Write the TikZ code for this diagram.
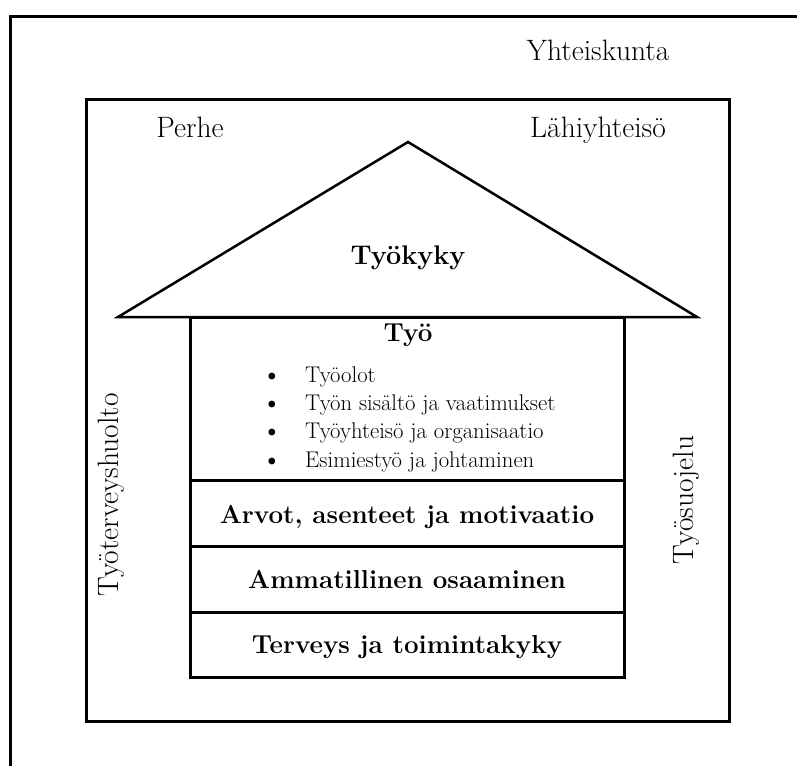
\documentclass[tikz,border=0pt]{standalone}
\begin{document}
\begin{tikzpicture}[x=1pt,y=-1pt]
\tikzset{
  frame/.style={line width=3pt},
  roofline/.style={line width=2.5pt,line join=miter},
  plain/.style={font=\fontsize{29.5}{34}\selectfont,anchor=base,inner sep=0pt},
  heading/.style={font=\bfseries\fontsize{26}{30}\selectfont,anchor=base,inner sep=0pt},
  item/.style={font=\fontsize{22.7}{26}\selectfont,anchor=base west,inner sep=0pt},
  dot/.style={font=\fontsize{30}{34}\selectfont,anchor=base west,inner sep=0pt},
}
\useasboundingbox (0,0) rectangle (797,765);
\clip (0,0) rectangle (797,765);

\coordinate (O1) at (10,17);
\coordinate (O2) at (830,800);
\coordinate (M1) at (86,100);
\coordinate (M2) at (729,721);
\coordinate (RL) at (118,317);
\coordinate (RR) at (697,317);
\coordinate (RT) at (408,142);
\coordinate (H1) at (190,317);
\coordinate (H2) at (624,677);

% boxes
\draw[frame] (O1) rectangle (O2);
\draw[frame] (M1) rectangle (M2);
\draw[frame] (H1) rectangle (H2);
\draw[roofline] (RL)--(RT)--(RR)--cycle;
\draw[frame] (190,480)--(624,480);
\draw[frame] (190,546)--(624,546);
\draw[frame] (190,612)--(624,612);

\node[plain] (yht) at (598,61) {Yhteiskunta};
\node[plain] (perhe) at (190,137) {Perhe};
\node[plain] (lahi) at (598,137) {Lähiyhteisö};
\node[plain,rotate=90] (thuolto) at (118,495) {Työterveyshuolto};
\node[plain,rotate=90] (tsuoj) at (693,500) {Työsuojelu};

\node[heading,font=\bfseries\fontsize{27}{30}\selectfont] (kyky) at (408,264) {Työkyky};
\node[heading] (tyo) at (408,341) {Työ};
\node[dot] (b1) at (261,384) {\textbullet};
\node[dot] (b2) at (261,412) {\textbullet};
\node[dot] (b3) at (261,440) {\textbullet};
\node[dot] (b4) at (261,469) {\textbullet};
\node[item] (i1) at (305,382) {Työolot};
\node[item] (i2) at (305,410) {Työn sisältö ja vaatimukset};
\node[item] (i3) at (305,438) {Työyhteisö ja organisaatio};
\node[item] (i4) at (305,467) {Esimiestyö ja johtaminen};

\node[heading] (arvot) at (407,523) {Arvot, asenteet ja motivaatio};
\node[heading] (amm) at (407,588) {Ammatillinen osaaminen};
\node[heading] (terv) at (407,653) {Terveys ja toimintakyky};
\end{tikzpicture}
\end{document}
